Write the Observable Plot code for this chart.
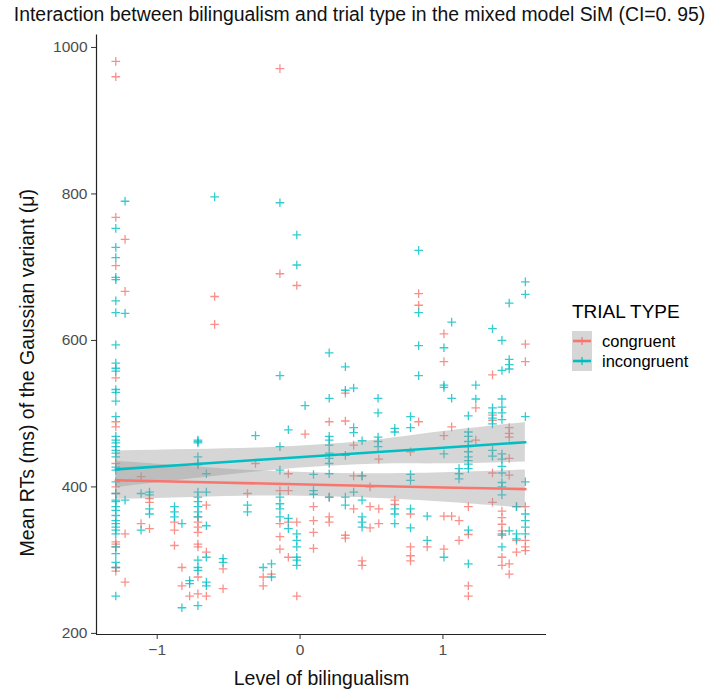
<!DOCTYPE html>
<html>
<head>
<meta charset="utf-8">
<script src="https://cdn.jsdelivr.net/npm/d3@7"></script>
<script src="https://cdn.jsdelivr.net/npm/@observablehq/plot@0.6"></script>
<style>
  html, body { margin: 0; padding: 0; background: #fff; }
  #wrap { position: relative; width: 712px; height: 692px; overflow: hidden; font-family: "Liberation Sans", Arial, sans-serif; }
  #legend { position: absolute; left: 572px; top: 301px; color: #000; }
  #legend .ttl { font-size: 19px; line-height: 22px; margin-bottom: 8px; margin-left: 0px; }
  #legend .row { display: flex; align-items: center; height: 20px; }
  #legend .row span { font-size: 16.5px; margin-left: 10px; color: #000; }
</style>
</head>
<body>
<div id="wrap"></div>
<script>
// ---- data ----
const seriesNames = ["congruent", "incongruent"];
const seriesColors = ["#F8766D", "#00BFC4"];
const xTicks = [-1, 0, 1];
const yTicks = [200, 400, 600, 800, 1000];
const xDomain = [-1.425, 1.725];
const yDomain = [198.5, 1017];

// columns: [bilingualism level, [mean RTs]]
const congruentCols = [
  [-1.29, [981, 960, 768, 702, 549, 489, 482, 432, 400, 391, 325, 322, 318, 290, 285]],
  [-1.225, [738, 667, 336, 270]],
  [-1.113, [350, 414]],
  [-1.054, [384, 379, 343]],
  [-0.879, [352, 341, 320]],
  [-0.827, [290, 265]],
  [-0.773, [251]],
  [-0.715, [430, 359, 352, 345, 338, 322, 318, 277, 254]],
  [-0.656, [375, 311, 251]],
  [-0.598, [660, 622]],
  [-0.539, [288, 261]],
  [-0.368, [391]],
  [-0.312, [432]],
  [-0.258, [277, 265]],
  [-0.2, [281]],
  [-0.141, [971, 691, 395, 350, 332, 315]],
  [-0.082, [418, 395, 352, 304]],
  [-0.023, [675, 352, 251]],
  [0.035, [472]],
  [0.094, [373, 354, 338, 316]],
  [0.204, [489, 386, 359, 352]],
  [0.317, [528, 490, 334, 330]],
  [0.375, [457, 415, 370]],
  [0.434, [415, 299, 293]],
  [0.49, [400, 373, 344]],
  [0.551, [438, 370, 350]],
  [0.663, [382, 376]],
  [0.773, [448, 363, 318, 306, 299]],
  [0.83, [664, 648, 489]],
  [0.89, [318]],
  [1.007, [609, 571, 470, 360, 315]],
  [1.061, [482, 360]],
  [1.113, [354, 327]],
  [1.178, [373, 335, 265, 251]],
  [1.23, [508, 464]],
  [1.347, [553, 498, 491, 419, 379]],
  [1.413, [367, 358, 349, 340, 334, 304, 293]],
  [1.464, [481, 473, 468, 439, 416, 295, 281]],
  [1.515, [373, 327, 311]],
  [1.577, [595, 571, 373, 327, 318, 313]]
];
const incongruentCols = [
  [-1.29, [753, 727, 713, 686, 683, 654, 638, 594, 569, 562, 558, 533, 529, 517, 496, 469, 464, 460, 455, 450, 446, 441, 427, 423, 407, 391, 382, 380, 373, 368, 361, 354, 350, 345, 341, 336, 318, 309, 297, 290, 251]],
  [-1.225, [790, 637, 382]],
  [-1.113, [391, 341]],
  [-1.054, [393, 389, 370, 363]],
  [-0.879, [373, 366, 359]],
  [-0.827, [350, 235]],
  [-0.773, [272, 268]],
  [-0.715, [464, 462, 460, 441, 432, 393, 386, 380, 373, 366, 359, 300, 290, 286, 238]],
  [-0.656, [418, 393, 347, 304, 270, 265]],
  [-0.598, [796]],
  [-0.539, [302, 297]],
  [-0.368, [375, 366]],
  [-0.312, [470]],
  [-0.258, [290]],
  [-0.2, [295, 277]],
  [-0.141, [788, 552, 455, 423, 386, 377, 370, 359]],
  [-0.082, [478, 357, 343]],
  [-0.023, [744, 703, 336, 327, 318, 304, 300, 293]],
  [0.035, [511]],
  [0.094, [417, 395, 390]],
  [0.204, [583, 521, 469, 464, 457, 446, 439, 432, 418, 386]],
  [0.317, [564, 532, 443, 386, 375]],
  [0.375, [535, 481, 474, 393]],
  [0.434, [463, 415, 382, 359, 352, 345]],
  [0.546, [521, 501, 468, 462, 455]],
  [0.663, [480, 475, 370, 363, 350]],
  [0.773, [496, 481, 417, 409, 370, 344]],
  [0.83, [723, 638, 593, 552]],
  [0.89, [360, 327]],
  [1.007, [590, 539, 536, 445, 304]],
  [1.061, [625, 521]],
  [1.113, [425, 418, 411]],
  [1.178, [497, 475, 469, 462, 455, 448, 441, 436, 431, 425, 341, 295]],
  [1.23, [539, 520]],
  [1.347, [616, 508, 501, 494, 486, 450, 442]],
  [1.413, [600, 559, 520, 509, 501, 492, 445, 438, 428, 419, 406, 400, 389, 336, 318]],
  [1.464, [651, 574, 567, 561, 340]],
  [1.515, [373, 336, 329]],
  [1.577, [680, 663, 496, 407, 363, 354, 345, 336]]
];

// fitted lines and 95% confidence bands (read at several x positions)
const bandX = [-1.29, -0.75, -0.25, 0.2, 0.6, 1.0, 1.577];
const congruentFit = [409, 406.7, 404.6, 402.7, 401, 399.3, 397];
const congruentLo  = [383, 385.7, 387.6, 386.7, 384, 379.3, 371];
const congruentHi  = [435, 427.7, 421.6, 418.7, 418, 419.3, 423];
const incongruentFit = [424, 431, 437.5, 443.2, 448.4, 453.5, 461];
const incongruentLo  = [399, 411, 421.5, 428.2, 431.4, 431.5, 434];
const incongruentHi  = [449, 451, 453.5, 458.2, 465.4, 475.5, 488];

const titleText = "Interaction between bilingualism and trial type in the mixed model SiM (CI=0. 95)";
const xLabel = "Level of bilingualism";
const yLabel = "Mean RTs (ms) of the Gaussian variant (\u03BC\u0304)";
const legendTitle = "TRIAL TYPE";

// ---- build tables ----
function flatten(cols, type) {
  const out = [];
  cols.forEach(([x, ys]) => ys.forEach(y => out.push({x, y, type})));
  return out;
}
const c = flatten(congruentCols, "congruent");
const inc = flatten(incongruentCols, "incongruent");
const points = [];
const n = Math.max(c.length, inc.length);
for (let i = 0; i < n; i++) { if (i < c.length) points.push(c[i]); if (i < inc.length) points.push(inc[i]); }

const bands = [];
bandX.forEach((x, i) => {
  bands.push({x, type: "congruent", fit: congruentFit[i], lo: congruentLo[i], hi: congruentHi[i]});
  bands.push({x, type: "incongruent", fit: incongruentFit[i], lo: incongruentLo[i], hi: incongruentHi[i]});
});

const W = 712, H = 692;
const mL = 96, mR = 166, mT = 34.5, mB = 58;
const fmtX = d => d < 0 ? "\u2212" + Math.abs(d) : String(d);

const chart = Plot.plot({
  width: W, height: H,
  marginLeft: mL, marginRight: mR, marginTop: mT, marginBottom: mB,
  style: { fontFamily: "'Liberation Sans', Arial, sans-serif", background: "white", overflow: "visible" },
  x: { domain: xDomain },
  y: { domain: yDomain },
  color: { domain: seriesNames, range: seriesColors },
  marks: [
    Plot.dot(points, { x: "x", y: "y", stroke: "type", symbol: "plus", r: 2.9, strokeWidth: 1.3, strokeOpacity: 0.8 }),
    Plot.areaY(bands, { x: "x", y1: "lo", y2: "hi", z: "type", fill: "#999999", fillOpacity: 0.4, curve: "natural" }),
    Plot.line(bands, { x: "x", y: "fit", z: "type", stroke: "type", strokeWidth: 2.6 }),
    Plot.ruleX([xDomain[0]], { stroke: "#222", strokeWidth: 1.2 }),
    Plot.ruleY([yDomain[0]], { stroke: "#222", strokeWidth: 1.2 }),
    Plot.axisY({ ticks: yTicks, tickFormat: d => String(d), tickSize: 5, tickPadding: 4, fontSize: 15.5, color: "#4D4D4D", stroke: "#333", label: null }),
    Plot.axisX({ ticks: xTicks, tickFormat: fmtX, tickSize: 5, tickPadding: 4, fontSize: 15.5, color: "#4D4D4D", stroke: "#333", label: null }),
    Plot.text([titleText], { frameAnchor: "top", dx: 38, dy: -27.5, fontSize: 19.4, fill: "#111" }),
    Plot.text([xLabel], { frameAnchor: "bottom", dy: 50, fontSize: 19.5, fill: "#111" }),
    Plot.text([yLabel], { frameAnchor: "left", textAnchor: "middle", rotate: -90, dx: -69, dy: 38, fontSize: 19.5, fill: "#111" })
  ]
});

const wrap = document.getElementById("wrap");
wrap.appendChild(chart);

// legend
const leg = document.createElement("div");
leg.id = "legend";
let html = '<div class="ttl">' + legendTitle + '</div>';
seriesNames.forEach((name, i) => {
  html += '<div class="row"><svg width="20" height="20" style="display:block">' +
    '<rect x="0" y="0" width="20" height="20" fill="#D6D6D6"/>' +
    '<line x1="1" x2="19" y1="10" y2="10" stroke="' + seriesColors[i] + '" stroke-width="2.6"/>' +
    '<path d="M6,10H14M10,6V14" stroke="' + seriesColors[i] + '" stroke-width="1.2" fill="none"/>' +
    '</svg><span>' + name + '</span></div>';
});
leg.innerHTML = html;
wrap.appendChild(leg);
</script>
</body>
</html>
